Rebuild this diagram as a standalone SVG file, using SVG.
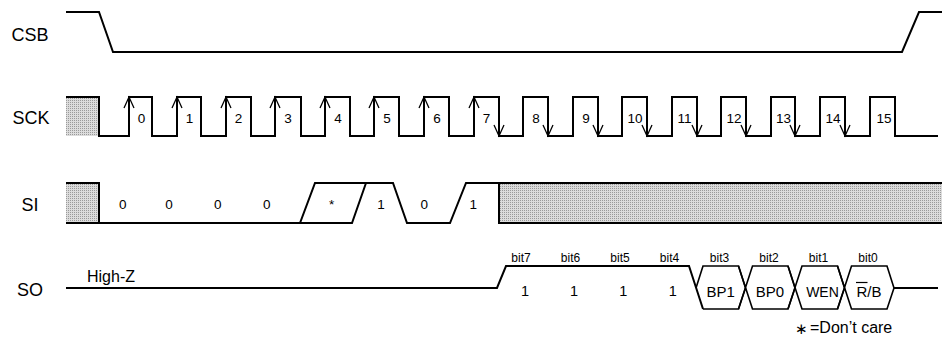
<svg xmlns="http://www.w3.org/2000/svg" width="942" height="340" viewBox="0 0 942 340">
<defs>
<pattern id="hatch" width="2" height="2" patternUnits="userSpaceOnUse">
<rect width="2" height="2" fill="#dcdcdc"/>
<rect width="1" height="1" fill="#9a9a9a"/>
</pattern>
</defs>
<style>
.sig{fill:none;stroke:#000;stroke-width:2;stroke-linejoin:miter}
.thin{fill:none;stroke:#000;stroke-width:1.6}
.arr{fill:none;stroke:#000;stroke-width:1.3}
.lbl{font-family:"Liberation Sans",Arial,sans-serif;font-size:18px;text-anchor:middle;fill:#000}
.num{font-family:"Liberation Sans",Arial,sans-serif;font-size:13.5px;text-anchor:middle;fill:#000}
.bit{font-family:"Liberation Sans",Arial,sans-serif;font-size:12px;text-anchor:middle;fill:#000}
.bus{font-family:"Liberation Sans",Arial,sans-serif;font-size:15px;text-anchor:middle;fill:#000}
.txt{font-family:"Liberation Sans",Arial,sans-serif;font-size:16px;fill:#000}
</style>
<rect width="942" height="340" fill="#fff"/>

<g id="labels">
<text class="lbl" x="30" y="41">CSB</text>
<text class="lbl" x="31" y="124">SCK</text>
<text class="lbl" x="30" y="211">SI</text>
<text class="lbl" x="30" y="296">SO</text>
</g>

<g id="csb">
<path class="sig" d="M66,12 H99 L113,52 H902 L919,12 H942"/>
</g>

<g id="sck">
<rect x="66" y="97" width="33" height="39" fill="url(#hatch)"/>
<path class="sig" d="M66,97 H99 V136 H129 V97 H152 V136 H177 V97 H201 V136 H226 V97 H251 V136 H275 V97 H301 V136 H325 V97 H350 V136 H374 V97 H399 V136 H424 V97 H449 V136 H474 V97 H499 V136 H523 V97 H548 V136 H573 V97 H598 V136 H622 V97 H647 V136 H672 V97 H697 V136 H721 V97 H746 V136 H771 V97 H795 V136 H820 V97 H845 V136 H870 V97 H895 V136 H938"/>
<g class="arr">
<path d="M124,108 L129,97 L134,108"/>
<path d="M172,108 L177,97 L182,108"/>
<path d="M221,108 L226,97 L231,108"/>
<path d="M270,108 L275,97 L280,108"/>
<path d="M320,108 L325,97 L330,108"/>
<path d="M369,108 L374,97 L379,108"/>
<path d="M419,108 L424,97 L429,108"/>
<path d="M469,108 L474,97 L479,108"/>
<path d="M494,125 L499,136 L504,125"/>
<path d="M543,125 L548,136 L553,125"/>
<path d="M593,125 L598,136 L603,125"/>
<path d="M642,125 L647,136 L652,125"/>
<path d="M692,125 L697,136 L702,125"/>
<path d="M741,125 L746,136 L751,125"/>
<path d="M790,125 L795,136 L800,125"/>
<path d="M840,125 L845,136 L850,125"/>
</g>
<g class="num">
<text x="141.5" y="122.5">0</text>
<text x="189.5" y="122.5">1</text>
<text x="238.5" y="122.5">2</text>
<text x="288" y="122.5">3</text>
<text x="338" y="122.5">4</text>
<text x="387" y="122.5">5</text>
<text x="437" y="122.5">6</text>
<text x="486.5" y="122.5">7</text>
<text x="536" y="122.5">8</text>
<text x="586" y="122.5">9</text>
<text x="635" y="122.5">10</text>
<text x="684.5" y="122.5">11</text>
<text x="734" y="122.5">12</text>
<text x="783.5" y="122.5">13</text>
<text x="833" y="122.5">14</text>
<text x="884" y="122.5">15</text>
</g>
</g>

<g id="si">
<rect x="66" y="183" width="33" height="40" fill="url(#hatch)"/>
<rect x="499" y="183" width="443" height="40" fill="url(#hatch)"/>
<path class="sig" d="M66,183 H99 V223"/>
<path class="sig" d="M66,223 H300 L315,183 H393 L407,223 H450 L466,183 H499 V223 H942"/>
<path class="sig" d="M300,223 H352 L366,183"/>
<path class="sig" d="M499,183 H942"/>
<g class="num">
<text x="122.7" y="209">0</text>
<text x="169" y="209">0</text>
<text x="217.7" y="209">0</text>
<text x="266.7" y="209">0</text>
<text x="331.7" y="209">*</text>
<text x="381" y="209">1</text>
<text x="424.3" y="209">0</text>
<text x="473.3" y="209">1</text>
</g>
</g>

<g id="so">
<path class="sig" d="M66,288 H497 L506,266 H689 L703,309"/>
<path class="thin" d="M696,288 L703,266 H738.5 L745.5,288 L738.5,309 H703"/>
<path class="thin" d="M738.5,266 L752.5,309 H788 L795,288 L788,266 H752.5 L738.5,309"/>
<path class="thin" d="M788,266 L802,309 H837.5 L844.5,288 L837.5,266 H802 L788,309"/>
<path class="thin" d="M837.5,266 L851.5,309 H887 L894,288 L887,266 H851.5 L837.5,309"/>
<path class="sig" d="M894,288 H938"/>
<text class="txt" x="87" y="282">High-Z</text>
<g class="bit">
<text x="521" y="262">bit7</text>
<text x="570.5" y="262">bit6</text>
<text x="620" y="262">bit5</text>
<text x="669.5" y="262">bit4</text>
<text x="719.5" y="262">bit3</text>
<text x="769" y="262">bit2</text>
<text x="818.5" y="262">bit1</text>
<text x="868" y="262">bit0</text>
</g>
<g class="num" style="font-size:14.5px">
<text x="525" y="296">1</text>
<text x="574" y="296">1</text>
<text x="623.3" y="296">1</text>
<text x="672.7" y="296">1</text>
</g>
<text class="bus" x="720.7" y="296.5">BP1</text>
<text class="bus" x="770" y="296.5">BP0</text>
<text class="bus" x="822.5" y="296.5" style="font-size:14px">WEN</text>
<text class="bus" x="869" y="296.5">R/B</text>
<line x1="856" y1="282.5" x2="867.5" y2="282.5" stroke="#000" stroke-width="1.2"/>
</g>

<g id="legend">
<text class="txt" x="801.5" y="334" style="font-size:15px;text-anchor:middle">∗</text>
<text class="txt" x="810" y="333">=Don’t care</text>
</g>
</svg>
